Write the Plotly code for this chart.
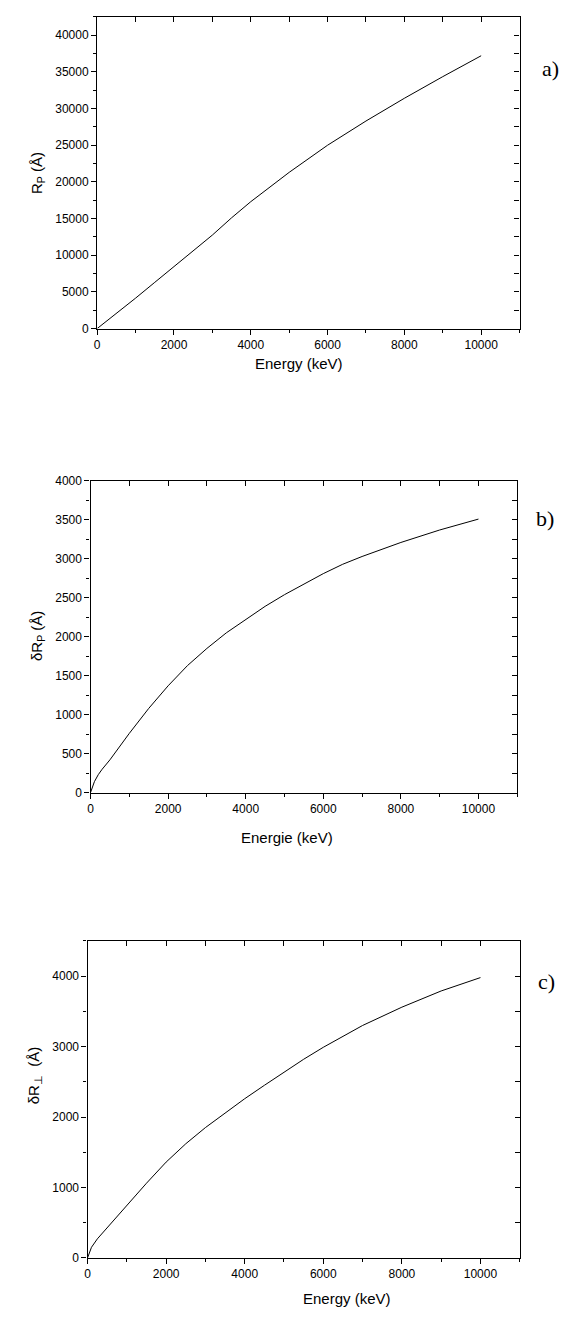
import plotly.graph_objects as go

# ---- data ----
energy_a = [0, 500, 1000, 1500, 2000, 2500, 3000, 3500, 4000, 5000, 6000, 7000, 8000, 9000, 10000]
rp_a = [0, 2050, 4150, 6300, 8450, 10600, 12750, 15100, 17300, 21300, 25000, 28300, 31400, 34350, 37200]

energy_b = [0, 50, 100, 200, 300, 500, 1000, 1500, 2000, 2500, 3000, 3500, 4000, 4500,
            5000, 5500, 6000, 6500, 7000, 8000, 9000, 10000]
drp_b = [0, 80, 140, 230, 300, 420, 760, 1080, 1370, 1630, 1850, 2050, 2220, 2390,
         2540, 2680, 2810, 2930, 3030, 3210, 3370, 3510]

energy_c = [0, 50, 100, 250, 500, 1000, 1500, 2000, 2500, 3000, 3500, 4000, 4500, 5000,
            5500, 6000, 7000, 8000, 9000, 10000]
drl_c = [0, 90, 150, 270, 430, 740, 1060, 1360, 1620, 1850, 2060, 2260, 2450, 2640,
         2820, 2990, 3300, 3560, 3790, 3980]

x_range = [0, 11000]
y_ranges = [[0, 42500], [0, 4000], [0, 4500]]
y_dticks = [5000, 500, 1000]
y_minor = [2500, 250, 500]
y_right = [2500, 250, 500]

x_titles = ["Energy (keV)", "Energie (keV)", "Energy (keV)"]
y_titles = ["R<sub>P</sub> (Å)", "δR<sub>P</sub> (Å)", "δR<sub>⊥</sub>  (Å)"]
panel_tags = ["a)", "b)", "c)"]

# ---- layout geometry (pixels) ----
W, H = 566, 1317
boxes = [  # left, right, top, bottom
    (94.7, 519.3, 10, 325),
    (88.0, 517.0, 479, 794),
    (85.0, 519.5, 944, 1264.3),
]
xtitle_pos = [(298, 360), (286, 839), (346, 1305)]
ytitle_pos = [(34, 168), (34, 636), (32, 1080)]
tag_pos = [(550, 62), (545, 517), (546, 985)]


def px(x):
    return x / W


def py(y):
    return 1 - y / H


TICKFONT = dict(family="Liberation Sans, Arial", size=12, color="black")
TITLEFONT = dict(family="Liberation Sans, Arial", size=15, color="black")

fig = go.Figure()
series = [(energy_a, rp_a), (energy_b, drp_b), (energy_c, drl_c)]

layout = dict(
    width=W, height=H,
    margin=dict(l=0, r=0, t=0, b=0),
    paper_bgcolor="white", plot_bgcolor="white",
    showlegend=False,
    annotations=[],
)

for i, ((xs, ys), (l, r, t, b)) in enumerate(zip(series, boxes)):
    m = 2 * i + 1
    n = 2 * i + 2
    xm, ym = f"x{m}", f"y{m}"
    xn, yn = f"x{n}", f"y{n}"
    fig.add_trace(go.Scatter(x=xs, y=ys, mode="lines",
                             line=dict(color="black", width=1),
                             xaxis=xm, yaxis=ym, hoverinfo="skip"))
    fig.add_trace(go.Scatter(x=xs, y=ys, mode="lines",
                             line=dict(color="rgba(0,0,0,0)", width=1),
                             xaxis=xn, yaxis=yn, hoverinfo="skip"))
    xkey_m = "xaxis" if m == 1 else f"xaxis{m}"
    ykey_m = "yaxis" if m == 1 else f"yaxis{m}"
    layout[xkey_m] = dict(
        domain=[px(l), px(r)], anchor=ym, range=x_range,
        showline=True, linecolor="black", linewidth=1.3, mirror=False,
        ticks="outside", ticklen=5, tickcolor="black", tickwidth=1,
        dtick=2000, tick0=0, tickformat="d",
        minor=dict(dtick=1000, ticks="outside", ticklen=3, tickcolor="black"),
        showgrid=False, zeroline=False, tickfont=TICKFONT,
    )
    layout[ykey_m] = dict(
        domain=[py(b), py(t)], anchor=xm, range=y_ranges[i],
        showline=True, linecolor="black", linewidth=1.3,
        ticks="outside", ticklen=5, tickcolor="black", tickwidth=1,
        dtick=y_dticks[i], tick0=0, tickformat="d",
        minor=dict(dtick=y_minor[i], ticks="outside", ticklen=3, tickcolor="black"),
        showgrid=False, zeroline=False, tickfont=TICKFONT,
    )
    layout[f"xaxis{n}"] = dict(
        overlaying=xm, side="top", anchor=ym, range=x_range,
        showline=True, linecolor="black", linewidth=1.3,
        ticks="inside", ticklen=5, tickcolor="black", dtick=1000, tick0=0,
        showticklabels=False, showgrid=False, zeroline=False,
    )
    layout[f"yaxis{n}"] = dict(
        overlaying=ym, side="right", anchor=xm, range=y_ranges[i],
        showline=True, linecolor="black", linewidth=1.3,
        ticks="inside", ticklen=5, tickcolor="black", dtick=y_right[i], tick0=0,
        showticklabels=False, showgrid=False, zeroline=False,
    )
    layout["annotations"].append(dict(
        text=x_titles[i], x=px(xtitle_pos[i][0]), y=py(xtitle_pos[i][1]),
        xref="paper", yref="paper", showarrow=False, font=TITLEFONT,
        xanchor="center", yanchor="middle"))
    layout["annotations"].append(dict(
        text=y_titles[i], x=px(ytitle_pos[i][0]), y=py(ytitle_pos[i][1]),
        xref="paper", yref="paper", showarrow=False, font=TITLEFONT,
        textangle=-90, xanchor="center", yanchor="middle"))
    layout["annotations"].append(dict(
        text=panel_tags[i], x=px(tag_pos[i][0]), y=py(tag_pos[i][1]),
        xref="paper", yref="paper", showarrow=False,
        font=dict(family="Liberation Serif, Times New Roman", size=22, color="black"),
        xanchor="center", yanchor="middle"))

fig.update_layout(layout)
fig.write_html("out.html")
